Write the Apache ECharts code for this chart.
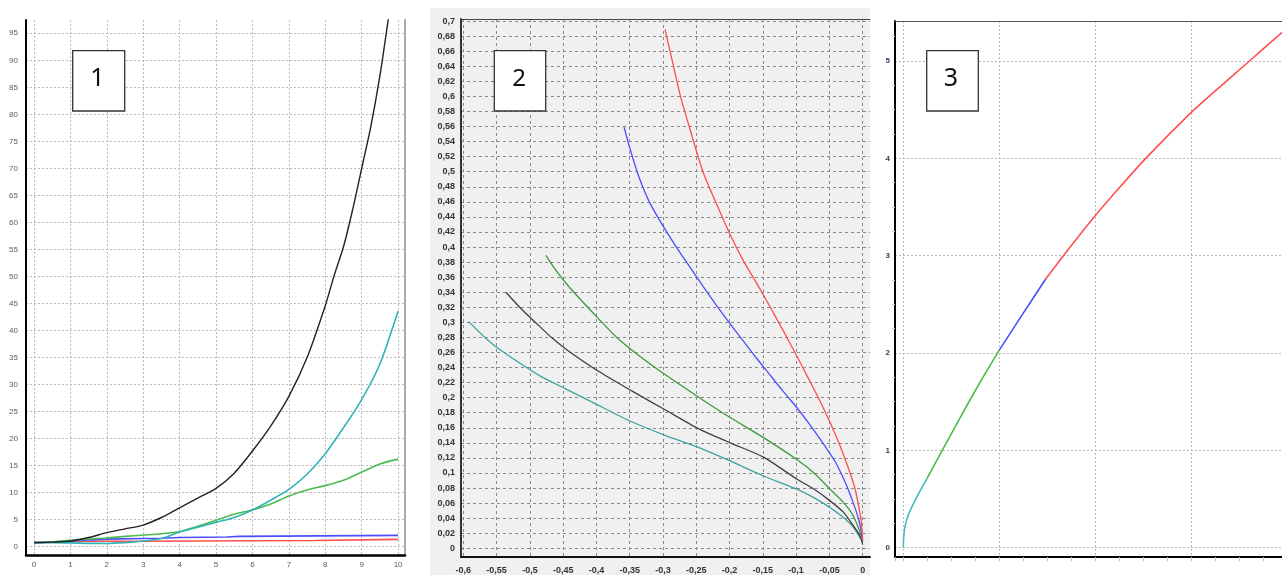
<!DOCTYPE html>
<html><head><meta charset="utf-8">
<script src="https://cdn.jsdelivr.net/npm/echarts@6/dist/echarts.min.js"></script>
<style>html,body{margin:0;padding:0;background:#fff}#c{width:1282px;height:575px}</style>
</head><body><div id="c"></div>
<script>
// ---------- Panel 1 data ----------
const p1Black = [[0,0.75],[0.5,0.85],[1,1.05],[1.5,1.7],[2,2.6],[2.5,3.3],[3,4.0],[3.5,5.4],[4,7.2],[4.5,9.0],[5,10.8],[5.5,13.6],[6,17.7],[6.5,22.3],[7,27.8],[7.5,35.0],[8,44.6],[8.25,50.3],[8.5,55.5],[8.75,62.3],[9,70],[9.25,77.7],[9.5,87.1],[9.75,98.5]];
const p1Cyan = [[0,0.75],[0.5,0.75],[1,0.7],[1.5,0.62],[2,0.6],[2.5,0.75],[3,1.05],[3.5,1.5],[4,2.7],[4.5,3.6],[5,4.5],[5.5,5.4],[6,6.8],[6.5,8.6],[7,10.6],[7.5,13.4],[8,17.2],[8.5,22],[9,27.2],[9.5,33.8],[10,43.6]];
const p1Green = [[0,0.75],[0.5,0.9],[1,1.2],[1.5,1.4],[2,1.6],[2.5,1.9],[3,2.15],[3.5,2.4],[4,2.8],[4.5,3.8],[5,4.9],[5.5,6.0],[6,6.8],[6.5,7.9],[7,9.4],[7.5,10.5],[8,11.3],[8.5,12.3],[9,13.8],[9.5,15.3],[10,16.2]];
const p1Blue = [[0,0.75],[0.5,0.85],[1,1.05],[1.5,1.25],[2,1.4],[3,1.5],[3.5,1.55],[4,1.7],[5.3,1.8],[5.4,1.85],[5.65,1.9],[5.7,2.1],[10,2.1]];
const p1Red = [[0,0.75],[0.5,0.85],[1,0.95],[1.5,1.0],[2.7,1.0],[2.75,1.15],[7.7,1.15],[7.75,1.35],[10,1.35]];

// ---------- Panel 2 data ----------
const p2Red = [[-0.297,0.689],[-0.285,0.643],[-0.274,0.601],[-0.26,0.558],[-0.24,0.500],[-0.22,0.458],[-0.20,0.418],[-0.18,0.383],[-0.16,0.353],[-0.14,0.322],[-0.12,0.290],[-0.10,0.257],[-0.08,0.223],[-0.06,0.188],[-0.04,0.149],[-0.025,0.115],[-0.012,0.081],[-0.006,0.056],[-0.002,0.035],[0,0.010]];
const p2Blue = [[-0.3585,0.559],[-0.35,0.532],[-0.34,0.503],[-0.33,0.479],[-0.32,0.459],[-0.30,0.428],[-0.28,0.400],[-0.26,0.374],[-0.24,0.348],[-0.22,0.323],[-0.20,0.299],[-0.18,0.276],[-0.16,0.253],[-0.14,0.231],[-0.12,0.209],[-0.10,0.188],[-0.08,0.165],[-0.06,0.140],[-0.04,0.113],[-0.025,0.085],[-0.014,0.060],[-0.005,0.035],[0,0.010]];
const p2Green = [[-0.476,0.389],[-0.46,0.368],[-0.44,0.346],[-0.397,0.305],[-0.367,0.278],[-0.312,0.240],[-0.247,0.201],[-0.199,0.1736],[-0.149,0.147],[-0.099,0.118],[-0.074,0.1007],[-0.049,0.0786],[-0.029,0.061],[-0.014,0.043],[0,0.012]];
const p2Black = [[-0.536,0.340],[-0.512,0.317],[-0.487,0.296],[-0.467,0.2795],[-0.442,0.262],[-0.397,0.235],[-0.347,0.209],[-0.297,0.184],[-0.247,0.159],[-0.199,0.140],[-0.149,0.121],[-0.099,0.092],[-0.074,0.079],[-0.049,0.063],[-0.029,0.048],[-0.014,0.030],[-0.004,0.017],[0,0.005]];
const p2Cyan = [[-0.592,0.301],[-0.570,0.282],[-0.550,0.267],[-0.517,0.247],[-0.485,0.229],[-0.447,0.212],[-0.402,0.192],[-0.352,0.170],[-0.297,0.150],[-0.247,0.134],[-0.199,0.116],[-0.149,0.096],[-0.099,0.0786],[-0.074,0.0676],[-0.049,0.054],[-0.029,0.041],[-0.014,0.028],[0,0.008]];

// ---------- Panel 3 data ----------
const p3Cyan = [[0,0],[0.004,0.11],[0.02,0.23],[0.05,0.33],[0.1,0.44],[0.17,0.575],[0.243,0.705]];
const p3Green = [[0.243,0.705],[0.4,0.99],[0.6,1.35],[0.8,1.70],[1.0,2.03]];
const p3Blue = [[1.0,2.03],[1.25,2.41],[1.483,2.76]];
const p3Red = [[1.483,2.76],[1.66,2.99],[1.99,3.40],[2.257,3.705],[2.535,4.01],[2.986,4.46],[3.229,4.675],[3.594,4.99],[3.94,5.29],[4.1,5.425]];

// tick label steps
const p1XStep = 1, p1YStep = 5, p2XStep = 0.05, p2YStep = 0.02, p3XStep = 1, p3YStep = 1;
const panelLabels = ['1','2','3'];

function fmt(step, comma) {
  return function (v) {
    const k = v / step;
    if (Math.abs(k - Math.round(k)) > 1e-6) return '';
    let r = parseFloat((Math.round(k) * step).toFixed(4));
    if (Math.abs(r) < 1e-9) return '0';
    let s = String(r);
    return comma ? s.replace('.', ',') : s;
  };
}

const chart = echarts.init(document.getElementById('c'), null, {renderer: 'canvas'});

function line(data, color, xi, yi, w, smooth) {
  return {type: 'line', data: data, xAxisIndex: xi, yAxisIndex: yi, showSymbol: false, symbol: 'none',
    smooth: smooth ? 0.25 : false, lineStyle: {color: color, width: w}, itemStyle: {color: color}, animation: false, silent: true};
}

const noSplit = {show: false};
const option = {
  animation: false,
  backgroundColor: '#ffffff',
  grid: [
    {left: 26, top: 20, width: 379, height: 535},
    {left: 461, top: 19, width: 409, height: 539},
    {left: 895, top: 21, width: 387, height: 536}
  ],
  xAxis: [
    {gridIndex: 0, type: 'value', min: -0.22, max: 10.19, minInterval: p1XStep, maxInterval: p1XStep, splitNumber: 10,
      axisLine: {onZero: false, lineStyle: {color: '#000', width: 2.5}}, axisTick: {show: false},
      axisLabel: {fontSize: 8, color: '#555a6a', margin: 6, formatter: fmt(p1XStep, false), fontFamily: 'Liberation Sans'},
      splitLine: {show: true, showMinLine: false, showMaxLine: false, lineStyle: {type: [2, 2], color: '#bbbbbb', width: 1}}},
    {gridIndex: 1, type: 'value', min: -0.6035, max: 0.011, minInterval: p2XStep, maxInterval: p2XStep, splitNumber: 12,
      axisLine: {onZero: false, lineStyle: {color: '#111', width: 2}}, axisTick: {show: false},
      axisLabel: {fontSize: 9, fontWeight: 'bold', color: '#333', margin: 9, formatter: fmt(p2XStep, true), fontFamily: 'Liberation Sans'},
      splitLine: {show: true, showMinLine: false, showMaxLine: false, lineStyle: {type: [3, 3], color: '#8a8a8a', width: 1}}},
    {gridIndex: 2, type: 'value', min: -0.0865, max: 3.945, minInterval: p3XStep, maxInterval: p3XStep, splitNumber: 4,
      axisLine: {onZero: false, lineStyle: {color: '#000', width: 2}},
      axisTick: {show: true, length: 4, inside: false, lineStyle: {color: '#bbb'}},
      minorTick: {show: true, splitNumber: 4, length: 4, lineStyle: {color: '#bbb'}},
      axisLabel: {show: false},
      splitLine: {show: true, showMinLine: false, showMaxLine: false, lineStyle: {type: [2, 2], color: '#bbbbbb', width: 1}}},
    {gridIndex: 1, type: 'value', position: 'top', min: -0.6035, max: 0.011,
      axisLine: {onZero: false, lineStyle: {color: '#444', width: 1}}, axisTick: {show: false}, axisLabel: {show: false}, splitLine: noSplit},
    {gridIndex: 2, type: 'value', position: 'top', min: -0.0865, max: 3.945,
      axisLine: {onZero: false, lineStyle: {color: '#555', width: 1}}, axisTick: {show: false}, axisLabel: {show: false}, splitLine: noSplit}
  ],
  yAxis: [
    {gridIndex: 0, type: 'value', min: -1.54, max: 97.46, minInterval: p1YStep, maxInterval: p1YStep, splitNumber: 20,
      axisLine: {show: true, onZero: false, lineStyle: {color: '#000', width: 2}}, axisTick: {show: false},
      axisLabel: {fontSize: 8, color: '#555a6a', margin: 8, formatter: fmt(p1YStep, false), fontFamily: 'Liberation Sans'},
      splitLine: {show: true, showMinLine: false, showMaxLine: false, lineStyle: {type: [2, 2], color: '#bbbbbb', width: 1}}},
    {gridIndex: 0, type: 'value', position: 'right', min: -1.54, max: 97.46,
      axisLine: {show: true, onZero: false, lineStyle: {color: '#aaaaaa', width: 2}}, axisTick: {show: false}, axisLabel: {show: false}, splitLine: noSplit},
    {gridIndex: 1, type: 'value', min: -0.0115, max: 0.7027, minInterval: p2YStep, maxInterval: p2YStep, splitNumber: 35,
      axisLine: {show: true, onZero: false, lineStyle: {color: '#333', width: 2}}, axisTick: {show: false},
      axisLabel: {fontSize: 9, fontWeight: 'bold', color: '#333', margin: 6, formatter: fmt(p2YStep, true), fontFamily: 'Liberation Sans'},
      splitLine: {show: true, showMinLine: false, showMaxLine: false, lineStyle: {type: [3, 3], color: '#8a8a8a', width: 1}}},
    {gridIndex: 2, type: 'value', min: -0.0955, max: 5.411, minInterval: p3YStep, maxInterval: p3YStep, splitNumber: 5,
      axisLine: {show: true, onZero: false, lineStyle: {color: '#000', width: 2}},
      axisTick: {show: false},
      minorTick: {show: true, splitNumber: 4, length: 3, lineStyle: {color: '#cccccc'}},
      axisLabel: {fontSize: 8, fontWeight: 'bold', color: '#3a3a5a', margin: 5, formatter: fmt(p3YStep, false), fontFamily: 'Liberation Sans'},
      splitLine: {show: true, showMinLine: false, showMaxLine: false, lineStyle: {type: [2, 2], color: '#bbbbbb', width: 1}}}
  ],
  series: [
    line(p1Red, '#ff5050', 0, 0, 1.6, false),
    line(p1Blue, '#4d4dff', 0, 0, 1.6, false),
    line(p1Green, '#4cbb4c', 0, 0, 1.6, true),
    line(p1Cyan, '#30b4b8', 0, 0, 1.6, true),
    line(p1Black, '#222222', 0, 0, 1.4, true),
    line(p2Cyan, '#3ea3a3', 1, 2, 1.3, true),
    line(p2Black, '#404040', 1, 2, 1.3, true),
    line(p2Green, '#3c993c', 1, 2, 1.3, true),
    line(p2Blue, '#4d4dff', 1, 2, 1.3, true),
    line(p2Red, '#ff4d4d', 1, 2, 1.3, true),
    line(p3Cyan, '#40bcc4', 2, 3, 1.6, true),
    line(p3Green, '#4cbb4c', 2, 3, 1.6, true),
    line(p3Blue, '#4d4dff', 2, 3, 1.6, true),
    line(p3Red, '#ff5050', 2, 3, 1.6, true)
  ],
  graphic: [
    {type: 'rect', shape: {x: 430, y: 8, width: 440, height: 567}, style: {fill: '#f0f0f0'}, z: -100, silent: true},
    {type: 'rect', shape: {x: 72.7, y: 50.7, width: 52, height: 60.3}, style: {fill: '#fff', stroke: '#333', lineWidth: 1.3}, z: 100},
    {type: 'text', x: 97.5, y: 79, style: {text: panelLabels[0], fontSize: 25, fontFamily: 'Noto Sans', fill: '#111', align: 'center', verticalAlign: 'middle'}, z: 101},
    {type: 'rect', shape: {x: 494.3, y: 50.7, width: 51.4, height: 60.3}, style: {fill: '#fff', stroke: '#333', lineWidth: 1.3}, z: 100},
    {type: 'text', x: 519, y: 79, style: {text: panelLabels[1], fontSize: 24, fontFamily: 'Noto Sans', fill: '#111', align: 'center', verticalAlign: 'middle'}, z: 101},
    {type: 'rect', shape: {x: 926.7, y: 50.7, width: 51.6, height: 60.3}, style: {fill: '#fff', stroke: '#333', lineWidth: 1.3}, z: 100},
    {type: 'text', x: 951, y: 79, style: {text: panelLabels[2], fontSize: 25, fontFamily: 'Noto Sans', fill: '#111', align: 'center', verticalAlign: 'middle'}, z: 101}
  ]
};
chart.setOption(option);
</script>
</body></html>
